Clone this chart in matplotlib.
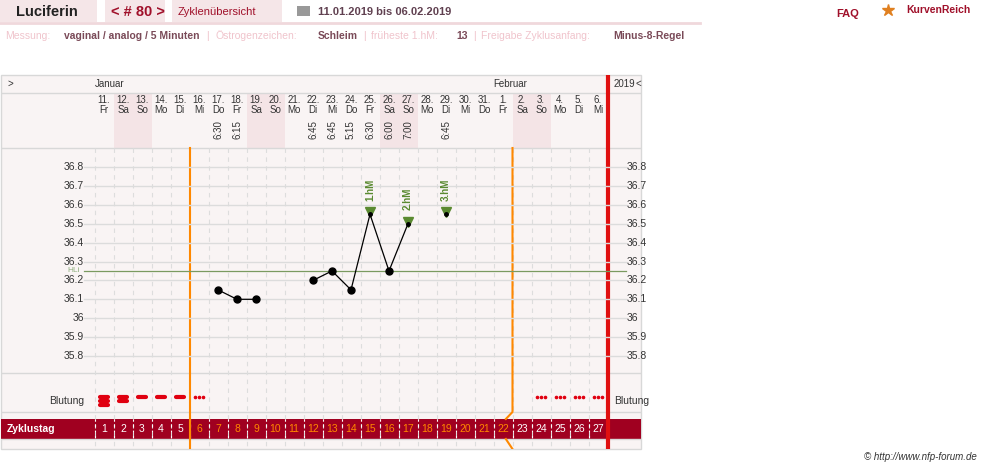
import numpy as np
import matplotlib.pyplot as plt
from matplotlib.patches import Rectangle

plt.rcParams['font.family'] = ['Liberation Sans', 'DejaVu Sans']

# data
dates = ["11.", "12.", "13.", "14.", "15.", "16.", "17.", "18.", "19.", "20.", "21.", "22.", "23.", "24.",
         "25.", "26.", "27.", "28.", "29.", "30.", "31.", "1.", "2.", "3.", "4.", "5.", "6."]
weekdays = ["Fr", "Sa", "So", "Mo", "Di", "Mi", "Do", "Fr", "Sa", "So", "Mo", "Di", "Mi", "Do",
            "Fr", "Sa", "So", "Mo", "Di", "Mi", "Do", "Fr", "Sa", "So", "Mo", "Di", "Mi"]
times = ["", "", "", "", "", "", "6:30", "6:15", "", "", "", "6:45", "6:45", "5:15",
         "6:30", "6:00", "7:00", "", "6:45", "", "", "", "", "", "", "", ""]
temps = [None, None, None, None, None, None, 36.15, 36.10, 36.10, None, None, 36.20, 36.25, 36.15,
         36.55, 36.25, 36.50, None, 36.55, None, None, None, None, None, None, None, None]
bleeding = [3, 2, 1, 1, 1, 0.5] + [0] * 17 + [0.5, 0.5, 0.5, 0.5]
hm_days = [15, 17, 19]  # cycle days of 1.hM, 2.hM, 3.hM
hm_labels = ["1.hM", "2.hM", "3.hM"]
coverline = 36.25
fertile_start, fertile_end = 5, 22  # boundaries in columns
temp_ticks = [35.8, 35.9, 36.0, 36.1, 36.2, 36.3, 36.4, 36.5, 36.6, 36.7, 36.8]
temp_tick_labels = ["35.8", "35.9", "36", "36.1", "36.2", "36.3", "36.4", "36.5", "36.6", "36.7", "36.8"]

W, H = 981, 469
fig = plt.figure(figsize=(W / 100, H / 100), dpi=100)
pink = "#f5e6e8"
dark = "#a0102a"
orange = "#ff8800"
green = "#5a8a30"
grid = "#dddddd"

# full figure overlay in pixels
bg = fig.add_axes([0, 0, 1, 1])
bg.set_xlim(0, W)
bg.set_ylim(H, 0)
bg.axis("off")

# header
for x0, x1 in [(0, 97), (105, 165), (172, 282)]:
    bg.add_patch(Rectangle((x0, 0), x1 - x0, 22, color=pink, lw=0))
bg.plot([0, 700], [23, 23], color="#f0d8dc", lw=2)
bg.text(16, 12, "Luciferin", fontsize=10.5, weight="bold", va="center", color="#222222")
bg.text(111, 12, "< # 80 >", fontsize=10.5, weight="bold", va="center", color=dark)
bg.text(178, 12, "Zyklenübersicht", fontsize=8, va="center", color=dark)
bg.add_patch(Rectangle((297, 6), 13, 10, color="#999999", lw=0))
bg.text(318, 12, "11.01.2019 bis 06.02.2019", fontsize=8, weight="bold", va="center", color="#604050")
bg.text(836, 14, "FAQ", fontsize=8, weight="bold", va="center", color=dark)
bg.text(906, 10, "KurvenReich", fontsize=7.5, weight="bold", va="center", color=dark)
bg.plot([888], [10], marker="*", ms=9, color="#e08020")

row2 = [("Messung:", "lab", 5), ("vaginal / analog / 5 Minuten", "val", 64), ("|", "lab", 206),
        ("Östrogenzeichen:", "lab", 215), ("Schleim", "val", 318), ("|", "lab", 363),
        ("früheste 1.hM:", "lab", 371), ("13", "val", 456), ("|", "lab", 473),
        ("Freigabe Zyklusanfang:", "lab", 481), ("Minus-8-Regel", "val", 613)]
for txt, kind, x in row2:
    bg.text(x, 36, txt, fontsize=7.5, va="center",
            color="#f0c4cc" if kind == "lab" else "#7a4a58", weight="normal" if kind == "lab" else "bold")

# panel
px0, px1, py0, py1 = 1, 641, 75, 449
bg.add_patch(Rectangle((px0, py0), px1 - px0, py1 - py0, facecolor="#f9f4f4", edgecolor="#d8d8d8", lw=1))
ax = fig.add_axes([px0 / W, 1 - py1 / H, (px1 - px0) / W, (py1 - py0) / H], facecolor="none")
col0, colw = 94.5, 19.0
ax.set_xlim((px0 - col0) / colw, (px1 - col0) / colw)
ax.set_ylim(py1, py0)
ax.axis("off")
n = len(dates)
xs = np.arange(n) + 0.5

for y in [93, 148, 373, 412, 439]:
    ax.axhline(y, color="#d8d8d8", lw=1)
for i, wd in enumerate(weekdays):
    if wd in ("Sa", "So"):
        ax.add_patch(Rectangle((i, 93), 1, 55, color="#f4e4e6", lw=0))
for i in range(n):
    ax.plot([i, i], [148, 449], color=grid, lw=0.8, ls=(0, (4, 4)))
    ax.text(xs[i], 100, dates[i], fontsize=7, ha="center", va="center", color="#333333")
    ax.text(xs[i], 110, weekdays[i], fontsize=7, ha="center", va="center", color="#333333")
    if times[i]:
        ax.text(xs[i], 130, times[i], fontsize=7, ha="center", va="center", rotation=90, color="#333333")
ax.text(-4.6, 84, ">", fontsize=7, va="center", color="#333333")
ax.text(0.0, 84, "Januar", fontsize=7, va="center", color="#333333")
ax.text(21.0, 84, "Februar", fontsize=7, va="center", color="#333333")
ax.text(27.3, 84, "2019", fontsize=7, va="center", color="#333333")
ax.text(28.45, 84, "<", fontsize=7, va="center", color="#333333")

# temperature axes
tax = fig.add_axes([px0 / W, 1 - 373 / H, (px1 - px0) / W, (373 - 148) / H], facecolor="none")
tax.set_xlim(ax.get_xlim())
tax.set_ylim(36.8 - 206 / 189, 36.8 + 19 / 189)
tax.axis("off")
for t, lab in zip(temp_ticks, temp_tick_labels):
    tax.plot([-0.55, 27.95], [t, t], color="#dcdcdc", lw=1, zorder=0)
    tax.text(-0.55, t, lab, fontsize=7.5, ha="right", va="center", color="#333333")
    tax.text(28.0, t, lab, fontsize=7.5, ha="left", va="center", color="#333333")
tax.plot([-0.55, 27.95], [coverline, coverline], color="#7a9a60", lw=0.9, zorder=1)
tax.text(-0.75, coverline, "HLi", fontsize=6, ha="right", va="center", color="#90b080")

hm_idx = [d - 1 for d in hm_days]
seg_x, seg_y, seg_i = [], [], []
for i, t in enumerate(temps + [None]):
    if t is None:
        if seg_x:
            tax.plot(seg_x, seg_y, color="black", lw=0.9, zorder=3)
            tax.plot([xs[j] for j in seg_i if j not in hm_idx], [temps[j] for j in seg_i if j not in hm_idx],
                     ls="none", marker="o", ms=5, color="black", zorder=3)
        seg_x, seg_y, seg_i = [], [], []
    else:
        seg_x.append(xs[i]); seg_y.append(t); seg_i.append(i)
for i, lab in zip(hm_idx, hm_labels):
    tax.plot(xs[i], temps[i] + 0.01, marker="v", ms=7, color=green, zorder=2)
    tax.plot(xs[i], temps[i], marker="o", ms=2.5, color="black", zorder=4)
    tax.text(xs[i], temps[i] + 0.07, lab, fontsize=7, weight="bold", rotation=90,
             ha="center", va="bottom", color=green)

# bleeding
ax.text(-0.55, 401, "Blutung", fontsize=7.5, ha="right", va="center", color="#333333")
ax.text(27.35, 401, "Blutung", fontsize=7.5, ha="left", va="center", color="#333333")
for i, b in enumerate(bleeding):
    if b >= 1:
        k = int(b)
        offs = 397 + np.arange(k) * 4.0
        for o in offs:
            ax.plot([xs[i] - 0.22, xs[i] + 0.22], [o, o], color="#e00010", lw=3, solid_capstyle="round")
    elif b > 0:
        ax.plot(xs[i] + np.array([-0.2, 0, 0.2]), [397] * 3, ls="none", marker="o", ms=1.6, color="#e00010")

# cycle day band
ax.add_patch(Rectangle((ax.get_xlim()[0], 419), ax.get_xlim()[1] - ax.get_xlim()[0], 20, color="#a00020", lw=0))
ax.text(-4.6, 429, "Zyklustag", fontsize=7.5, weight="bold", va="center", color="white")
for i in range(n):
    cd = i + 1
    c = orange if fertile_start < cd <= fertile_end else "white"
    ax.text(xs[i], 429.5, str(cd), fontsize=7.5, ha="center", va="center", color=c)
    ax.plot([i, i], [419, 439], color="white", lw=0.8, ls=(0, (2, 3)))

# orange and red lines
ax.plot([fertile_start, fertile_start], [148, 449], color=orange, lw=1.5)
ax.plot([fertile_end, fertile_end, fertile_end - 0.35], [148, 412, 419], color=orange, lw=1.5)
ax.plot([fertile_end - 0.35, fertile_end], [439, 449], color=orange, lw=1.5)
ax.plot([27, 27], [75, 449], color="#e01010", lw=3)

bg.text(977, 457, "© http://www.nfp-forum.de", fontsize=7, style="italic", ha="right", va="center", color="#333333")

fig.savefig("out.png", dpi=100)
